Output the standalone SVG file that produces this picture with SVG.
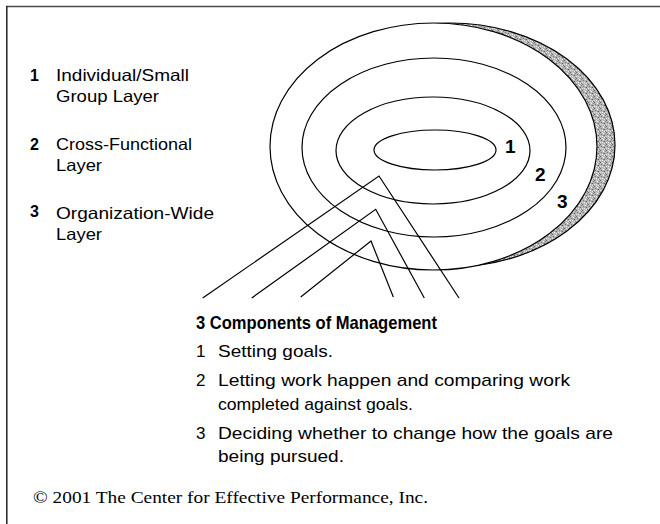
<svg xmlns="http://www.w3.org/2000/svg" width="660" height="524" viewBox="0 0 660 524">
  <style>
    .sans { font-family: "Liberation Sans", Arial, sans-serif; fill: #000; }
    .num { font-family: "Liberation Sans", Arial, sans-serif; font-weight: bold; fill: #000; }
    .ring { fill: none; stroke: #000; stroke-width: 1.2; }
    .link { fill: none; stroke: #000; stroke-width: 1.2; stroke-linejoin: miter; }
    .legend { font-size: 16.5px; }
    .item { font-size: 17px; }
  </style>
  <defs>
    <!-- stippled grey used for the shaded rim of the outer layer -->
    <pattern id="stipple" width="6" height="6" patternUnits="userSpaceOnUse">
      <rect width="6" height="6" fill="#b6b6b6"/>
      <rect x="0" y="0" width="1" height="1" fill="#666666"/>
      <rect x="3" y="1" width="1" height="1" fill="#ffffff"/>
      <rect x="1" y="2" width="1" height="1" fill="#777777"/>
      <rect x="4" y="3" width="1" height="1" fill="#5e5e5e"/>
      <rect x="2" y="4" width="1" height="1" fill="#f0f0f0"/>
      <rect x="5" y="5" width="1" height="1" fill="#808080"/>
      <rect x="0" y="4" width="1" height="1" fill="#e4e4e4"/>
      <rect x="5" y="1" width="1" height="1" fill="#888888"/>
      <rect x="2" y="0" width="1" height="1" fill="#dddddd"/>
      <rect x="4" y="5" width="1" height="1" fill="#ececec"/>
      <rect x="3" y="3" width="1" height="1" fill="#999999"/>
    </pattern>
  </defs>

  <rect width="660" height="524" fill="#ffffff"/>

  <!-- frame -->
  <g id="frame">
    <line x1="6" y1="6.5" x2="660" y2="6.5" stroke="#4a4a4a" stroke-width="1.6"/>
    <line x1="6.8" y1="6" x2="6.8" y2="524" stroke="#222" stroke-width="1.5"/>
  </g>

  <!-- legend of the three layers -->
  <g id="legend-1">
    <text class="num" x="30" y="81" font-size="16">1</text>
    <text class="sans legend" x="56" y="81" textLength="133" lengthAdjust="spacingAndGlyphs">Individual/Small</text>
    <text class="sans legend" x="56" y="102" textLength="103" lengthAdjust="spacingAndGlyphs">Group Layer</text>
  </g>
  <g id="legend-2">
    <text class="num" x="30" y="150" font-size="16">2</text>
    <text class="sans legend" x="56" y="150" textLength="136" lengthAdjust="spacingAndGlyphs">Cross-Functional</text>
    <text class="sans legend" x="56" y="171" textLength="46" lengthAdjust="spacingAndGlyphs">Layer</text>
  </g>
  <g id="legend-3">
    <text class="num" x="30" y="217" font-size="16">3</text>
    <text class="sans legend" x="56" y="219" textLength="158" lengthAdjust="spacingAndGlyphs">Organization-Wide</text>
    <text class="sans legend" x="56" y="240" textLength="46" lengthAdjust="spacingAndGlyphs">Layer</text>
  </g>

  <!-- nested layers -->
  <g id="layer-3-organization">
    <ellipse cx="450" cy="145" rx="165" ry="122" fill="url(#stipple)" stroke="#000" stroke-width="1.2"/>
    <ellipse cx="433.5" cy="146.5" rx="163.5" ry="123.5" fill="#ffffff" stroke="#000" stroke-width="1.2"/>
    <ellipse class="ring" cx="434" cy="147.5" rx="132" ry="89.5"/>
    <text class="num" x="557" y="207.5" font-size="19">3</text>
  </g>
  <g id="layer-2-cross-functional">
    <ellipse class="ring" cx="433" cy="150.5" rx="97" ry="53.5"/>
    <text class="num" x="535" y="181" font-size="19">2</text>
  </g>
  <g id="layer-1-individual">
    <ellipse class="ring" cx="435" cy="150" rx="61" ry="20"/>
    <text class="num" x="505" y="153" font-size="19">1</text>
  </g>

  <!-- connectors from the layers down to the components -->
  <g id="connectors">
    <polyline class="link" points="202.7,298 379,176 459,298"/>
    <polyline class="link" points="251.7,298 375.7,209.3 424.3,298"/>
    <polyline class="link" points="300.7,297 371,241 393.3,297"/>
  </g>

  <!-- components of management -->
  <g id="components">
    <text class="num" x="196" y="328.5" font-size="18.5" font-weight="900" textLength="241" lengthAdjust="spacingAndGlyphs">3 Components of Management</text>
    <text class="sans item" x="196" y="357">1</text>
    <text class="sans item" x="218" y="357" textLength="115" lengthAdjust="spacingAndGlyphs">Setting goals.</text>
    <text class="sans item" x="196" y="386">2</text>
    <text class="sans item" x="218" y="386" textLength="352" lengthAdjust="spacingAndGlyphs">Letting work happen and comparing work</text>
    <text class="sans item" x="218" y="410" textLength="195" lengthAdjust="spacingAndGlyphs">completed against goals.</text>
    <text class="sans item" x="196" y="439">3</text>
    <text class="sans item" x="218" y="439" textLength="395" lengthAdjust="spacingAndGlyphs">Deciding whether to change how the goals are</text>
    <text class="sans item" x="218" y="462" textLength="126" lengthAdjust="spacingAndGlyphs">being pursued.</text>
  </g>

  <g id="copyright">
    <text x="33" y="503" font-family="'Liberation Serif', 'Times New Roman', serif" font-size="17" fill="#000" textLength="395" lengthAdjust="spacingAndGlyphs">© 2001 The Center for Effective Performance, Inc.</text>
  </g>
</svg>
